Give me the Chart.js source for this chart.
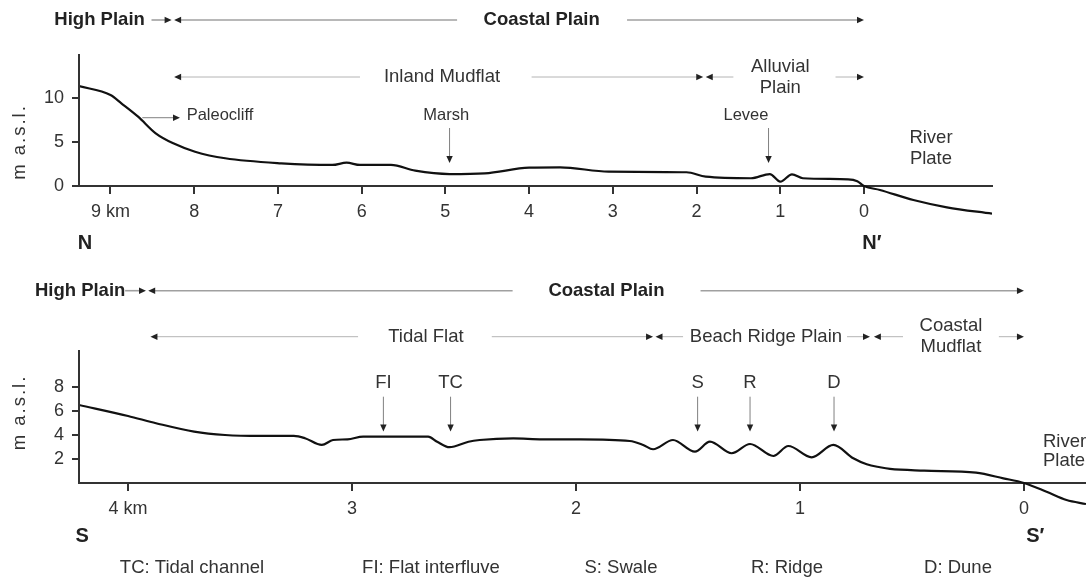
<!DOCTYPE html>
<html>
<head>
<meta charset="utf-8">
<script src="https://cdn.jsdelivr.net/npm/chart.js@4.4.1/dist/chart.umd.min.js"></script>
<style>
  html, body { margin: 0; padding: 0; background: #fff; }
  #wrap { position: relative; width: 1086px; height: 580px; overflow: hidden; }
  canvas { position: absolute; left: 0; }
  #profN { top: 0; }
  #profS { top: 270px; }
</style>
</head>
<body>
<div id="wrap">
  <canvas id="profN" width="1086" height="270"></canvas>
  <canvas id="profS" width="1086" height="310"></canvas>
</div>
<script>
/* --- perfil N-N' (distancia en km, cota en m s.n.m.) --- */
const kmN = [9.376, 9.0, 8.87, 8.67, 8.46, 8.25, 7.99, 7.63, 6.96, 6.35, 6.18, 6.02, 5.65, 5.36, 4.95, 4.53, 4.0,
             3.63, 3.05, 2.12, 1.89, 1.35, 1.125, 1.0, 0.86, 0.73, 0.19, 0.08, 0, -0.19, -0.59, -0.99, -1.529];
const elevN = [11.36, 10.34, 9.4, 7.88, 5.99, 4.85, 3.9, 3.15, 2.58, 2.39, 2.65, 2.39, 2.39, 1.74, 1.36, 1.44, 2.08,
               2.12, 1.63, 1.56, 1.06, 0.88, 1.36, 0.49, 1.33, 0.88, 0.76, 0.55, 0, -0.45, -1.59, -2.42, -3.15];
const ticksXN = [9, 8, 7, 6, 5, 4, 3, 2, 1, 0];
const ticksYN = [0, 5, 10];

/* --- perfil S-S' --- */
const kmS = [4.219, 4.0, 3.875, 3.705, 3.567, 3.41, 3.26, 3.21, 3.135, 3.085, 3.02, 2.95, 2.66, 2.62, 2.565,
             2.48, 2.43, 2.28, 2.15, 1.98, 1.76, 1.70, 1.656, 1.567, 1.469, 1.402, 1.305, 1.223, 1.119, 1.052,
             0.948, 0.851, 0.762, 0.702, 0.643, 0.598, 0.446, 0.214, 0.092, 0, -0.101, -0.19, -0.277];
const elevS = [6.5, 5.58, 4.98, 4.28, 4.0, 3.92, 3.92, 3.73, 3.17, 3.58, 3.64, 3.86, 3.86, 3.44, 2.98,
               3.44, 3.58, 3.72, 3.64, 3.64, 3.5, 3.17, 2.81, 3.58, 2.61, 3.44, 2.48, 3.25, 2.25, 3.08,
               2.14, 3.17, 2.06, 1.56, 1.31, 1.17, 1.03, 0.86, 0.39, 0, -0.73, -1.42, -1.75];
const ticksXS = [4, 3, 2, 1, 0];
const ticksYS = [2, 4, 6, 8];

const FONT = '"Liberation Sans", Arial, Helvetica, sans-serif';
const INK = '#222';
const AXIS = '#333';

// Anotaciones (km en x; filas de cabecera en px del canvas)
const notesN = {
  rows: [
    { y: 20, lw: 1.6, color: '#a0a0a0', items: [
      { text: 'High Plain', at: 9.13, bold: true },
      { from: 8.51, to: 8.27 },
      { from: 4.86, to: 8.24 },
      { text: 'Coastal Plain', at: 3.85, bold: true },
      { from: 2.83, to: 0 }
    ]},
    { y: 77, lw: 1, color: '#b4b4b4', items: [
      { from: 6.02, to: 8.24 },
      { text: 'Inland Mudflat', at: 5.04 },
      { from: 3.97, to: 1.92 },
      { from: 1.56, to: 1.89 },
      { text: ['Alluvial', 'Plain'], at: 1.0 },
      { from: 0.34, to: 0 }
    ]}
  ],
  markers: [
    { label: 'Marsh', km: 4.95, labelAt: 4.99 },
    { label: 'Levee', km: 1.14, labelAt: 1.41 }
  ],
  markerFont: 16.5, markerLabelY: 8.07, markerTop: 6.59, markerTip: 2.61,
  side: [{ text: 'Paleocliff', at: 8.09, y: 8.07, from: 8.62, to: 8.17, ay: 7.76 }],
  free: [{ text: ['River', 'Plate'], at: -0.8, ys: [5.45, 3.07], align: 'center' }],
  ends: [{ text: 'N', at: 9.305, align: 'center' }, { text: 'N\u2032', at: 0.02, align: 'left' }],
  endsY: 243, titleY: 142, foot: null
};

const notesS = {
  rows: [
    { y: 20.7, lw: 1.6, color: '#a0a0a0', items: [
      { text: 'High Plain', at: 4.214, bold: true },
      { from: 4.013, to: 3.92 },
      { from: 2.283, to: 3.91 },
      { text: 'Coastal Plain', at: 1.864, bold: true },
      { from: 1.444, to: 0 }
    ]},
    { y: 66.7, lw: 1, color: '#b4b4b4', items: [
      { from: 2.973, to: 3.9 },
      { text: 'Tidal Flat', at: 2.67 },
      { from: 2.376, to: 1.656 },
      { from: 1.522, to: 1.645 },
      { text: 'Beach Ridge Plain', at: 1.152 },
      { from: 0.79, to: 0.6875 },
      { from: 0.54, to: 0.67 },
      { text: ['Coastal', 'Mudflat'], at: 0.326 },
      { from: 0.112, to: 0 }
    ]}
  ],
  markers: [
    { label: 'FI', km: 2.86, labelAt: 2.86 },
    { label: 'TC', km: 2.56, labelAt: 2.56 },
    { label: 'S', km: 1.457, labelAt: 1.457 },
    { label: 'R', km: 1.223, labelAt: 1.223 },
    { label: 'D', km: 0.848, labelAt: 0.848 }
  ],
  markerFont: 18.5, markerLabelY: 8.33, markerTop: 7.19, markerTip: 4.28,
  side: [],
  free: [{ text: ['River', 'Plate'], at: -0.085, ys: [3.44, 1.86], align: 'left' }],
  ends: [{ text: 'S', at: 4.205, align: 'center' }, { text: 'S\u2032', at: -0.01, align: 'left' }],
  endsY: 266.7, titleY: 142.5,
  foot: { y: 297.7, items: [
    ['TC: Tidal channel', 192], ['FI: Flat interfluve', 431], ['S: Swale', 621], ['R: Ridge', 787], ['D: Dune', 958]
  ]}
};

function head(ctx, x, y, dx, dy) {
  // punta de flecha rellena apuntando en (dx,dy)
  const len = 7, half = 3.2;
  ctx.beginPath();
  ctx.moveTo(x, y);
  ctx.lineTo(x - dx * len - dy * half, y - dy * len - dx * half);
  ctx.lineTo(x - dx * len + dy * half, y - dy * len + dx * half);
  ctx.closePath();
  ctx.fill();
}

function notesPlugin(notes) {
  return {
    id: 'profileNotes',
    afterDraw(chart) {
      const ctx = chart.ctx, xs = chart.scales.x, ys = chart.scales.y;
      ctx.save();

      // eje vertical solo hasta el nivel 0
      ctx.strokeStyle = AXIS; ctx.lineWidth = 2;
      ctx.beginPath();
      ctx.moveTo(xs.left, chart.chartArea.top);
      ctx.lineTo(xs.left, ys.getPixelForValue(0) + 1);
      ctx.stroke();

      ctx.textBaseline = 'middle';
      // filas de unidades
      notes.rows.forEach(row => {
        row.items.forEach(it => {
          if (it.text) {
            ctx.fillStyle = it.bold ? INK : '#333';
            ctx.font = (it.bold ? 'bold ' : '') + '18.5px ' + FONT;
            ctx.textAlign = 'center';
            const lines = Array.isArray(it.text) ? it.text : [it.text];
            lines.forEach((t, i) => ctx.fillText(t, xs.getPixelForValue(it.at), row.y + (i - (lines.length - 1) / 2) * 21));
          } else {
            const a = xs.getPixelForValue(it.from), b = xs.getPixelForValue(it.to);
            const dir = Math.sign(b - a);
            ctx.strokeStyle = row.color; ctx.lineWidth = row.lw;
            ctx.beginPath(); ctx.moveTo(a, row.y); ctx.lineTo(b - dir * 4, row.y); ctx.stroke();
            ctx.fillStyle = INK;
            head(ctx, b, row.y, dir, 0);
          }
        });
      });

      // flechas verticales
      notes.markers.forEach(m => {
        const x = xs.getPixelForValue(m.km);
        const y0 = ys.getPixelForValue(notes.markerTop), y1 = ys.getPixelForValue(notes.markerTip);
        ctx.fillStyle = '#333';
        ctx.font = notes.markerFont + 'px ' + FONT;
        ctx.textAlign = 'center';
        ctx.fillText(m.label, xs.getPixelForValue(m.labelAt), ys.getPixelForValue(notes.markerLabelY));
        ctx.strokeStyle = '#808080'; ctx.lineWidth = 1;
        ctx.beginPath(); ctx.moveTo(x, y0); ctx.lineTo(x, y1 - 4); ctx.stroke();
        ctx.fillStyle = INK;
        head(ctx, x, y1, 0, 1);
      });

      notes.side.forEach(s => {
        ctx.fillStyle = '#333';
        ctx.font = notes.markerFont + 'px ' + FONT;
        ctx.textAlign = 'left';
        ctx.fillText(s.text, xs.getPixelForValue(s.at), ys.getPixelForValue(s.y));
        const a = xs.getPixelForValue(s.from), b = xs.getPixelForValue(s.to), y = ys.getPixelForValue(s.ay);
        ctx.strokeStyle = '#808080'; ctx.lineWidth = 1;
        ctx.beginPath(); ctx.moveTo(a, y); ctx.lineTo(b - 4, y); ctx.stroke();
        ctx.fillStyle = INK;
        head(ctx, b, y, 1, 0);
      });

      notes.free.forEach(f => {
        ctx.fillStyle = '#333';
        ctx.font = '18.5px ' + FONT;
        ctx.textAlign = f.align;
        f.text.forEach((t, i) => ctx.fillText(t, xs.getPixelForValue(f.at), ys.getPixelForValue(f.ys[i])));
      });

      // extremos del perfil
      ctx.fillStyle = INK;
      ctx.font = 'bold 20px ' + FONT;
      notes.ends.forEach(e => {
        ctx.textAlign = e.align;
        ctx.fillText(e.text, xs.getPixelForValue(e.at), notes.endsY);
      });

      // título eje y
      ctx.save();
      ctx.translate(20, notes.titleY);
      ctx.rotate(-Math.PI / 2);
      ctx.fillStyle = '#333';
      ctx.font = '18.5px ' + FONT;
      ctx.textAlign = 'center';
      ctx.letterSpacing = '2px';
      ctx.fillText('m a.s.l.', 0, 0);
      ctx.restore();

      if (notes.foot) {
        ctx.fillStyle = '#333';
        ctx.font = '18.5px ' + FONT;
        ctx.textAlign = 'center';
        notes.foot.items.forEach(([t, x]) => ctx.fillText(t, x, notes.foot.y));
      }
      ctx.restore();
    }
  };
}

function makeProfile(id, km, elev, o) {
  return new Chart(document.getElementById(id), {
    type: 'line',
    data: {
      datasets: [{
        data: km.map((x, i) => ({ x: x, y: elev[i] })),
        borderColor: '#111',
        borderWidth: 2.2,
        pointRadius: 0,
        fill: false,
        cubicInterpolationMode: 'monotone'
      }]
    },
    options: {
      responsive: false,
      animation: false,
      events: [],
      layout: { padding: o.pad },
      plugins: { legend: { display: false }, tooltip: { enabled: false } },
      scales: {
        x: {
          type: 'linear', reverse: true, min: o.xMin, max: o.xMax,
          position: { y: 0 },
          afterBuildTicks: s => { s.ticks = o.xTicks.map(v => ({ value: v })); },
          grid: { drawOnChartArea: false, drawTicks: true, tickLength: 7, color: AXIS, lineWidth: 2 },
          border: { display: true, color: AXIS, width: 2 },
          ticks: {
            autoSkip: false, maxRotation: 0, padding: 8, color: '#333',
            font: { family: FONT, size: 18 },
            callback: v => (v === o.xTicks[0] ? v + ' km' : String(v))
          }
        },
        y: {
          type: 'linear', min: o.yMin, max: o.yMax,
          afterFit: s => { s.width = 79; },
          afterBuildTicks: s => { s.ticks = o.yTicks.map(v => ({ value: v })); },
          grid: { drawOnChartArea: false, drawTicks: true, tickLength: 7, color: AXIS, lineWidth: 2 },
          border: { display: false },
          ticks: { padding: 8, color: '#333', font: { family: FONT, size: 18 } }
        }
      }
    },
    plugins: [notesPlugin(o.notes)]
  });
}

makeProfile('profN', kmN, elevN, {
  xMin: -1.529, xMax: 9.376, yMin: -3.5, yMax: 15,
  xTicks: ticksXN, yTicks: ticksYN,
  pad: { left: 0, top: 54, right: 94, bottom: 53.2 },
  notes: notesN
});

makeProfile('profS', kmS, elevS, {
  xMin: -0.277, xMax: 4.219, yMin: -2, yMax: 11.08,
  xTicks: ticksXS, yTicks: ticksYS,
  pad: { left: 0, top: 80, right: 0, bottom: 73 },
  notes: notesS
});
</script>
</body>
</html>
